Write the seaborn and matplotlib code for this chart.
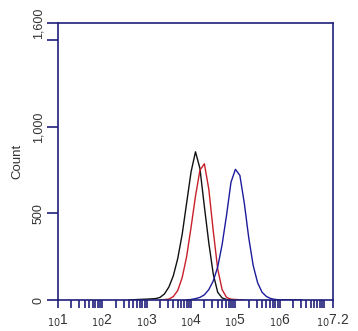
import numpy as np
import pandas as pd
import matplotlib
matplotlib.use("Agg")
import matplotlib.pyplot as plt
import seaborn as sns
from matplotlib.ticker import FixedLocator, NullFormatter

# ---- data (log10 fluorescence, counts) ----
black_log = [2.6, 2.8, 3.0, 3.2, 3.3, 3.4, 3.5, 3.6, 3.7, 3.8, 3.9, 4.0, 4.1, 4.2, 4.3, 4.4, 4.5, 4.6, 4.7, 4.8, 5.0]
black_cnt = [0, 3, 5, 8, 15, 35, 75, 140, 240, 380, 560, 740, 856, 760, 540, 330, 150, 45, 12, 3, 0]

red_log = [3.3, 3.5, 3.6, 3.7, 3.8, 3.9, 4.0, 4.1, 4.2, 4.3, 4.4, 4.5, 4.6, 4.7, 4.8, 4.9, 5.0, 5.2]
red_cnt = [0, 5, 20, 55, 130, 250, 420, 600, 750, 787, 640, 400, 180, 60, 15, 5, 3, 0]

blue_log = [3.9, 4.0, 4.1, 4.2, 4.3, 4.4, 4.5, 4.6, 4.7, 4.8, 4.9, 5.0, 5.1, 5.2, 5.3, 5.4, 5.5, 5.6, 5.7, 5.8, 5.9, 6.0, 6.5]
blue_cnt = [0, 3, 8, 15, 30, 60, 110, 190, 320, 490, 680, 755, 720, 560, 360, 200, 100, 45, 20, 8, 3, 1, 0]

series_names = ["control", "red", "blue"]
colors = ["#111111", "#c8202a", "#1c1c9c"]

y_ticks = [0, 500, 1000, 1500, 1600]
y_labels = ["0", "500", "1,000", "", "1,600"]
x_major_exp = [1, 2, 3, 4, 5, 6, 7.2]

frames = []
for name, xs, ys in zip(series_names, [black_log, red_log, blue_log], [black_cnt, red_cnt, blue_cnt]):
    frames.append(pd.DataFrame({"fl": 10 ** np.array(xs, dtype=float), "count": ys, "series": name}))
df = pd.concat(frames, ignore_index=True)

sns.set_style("white")
plt.rcParams["font.family"] = ["Liberation Sans", "DejaVu Sans"]

fig = plt.figure(figsize=(3.58, 3.31), dpi=100)
ax = fig.add_axes([58 / 358, 31 / 331, 275 / 358, 277 / 331])

sns.lineplot(data=df, x="fl", y="count", hue="series", palette=colors,
             hue_order=series_names, linewidth=1.0, legend=False, ax=ax,
             estimator=None, sort=False)

ax.set_xscale("log")
ax.set_xlim(10 ** 1, 10 ** 7.2)
ax.set_ylim(0, 1600)

spine_col = "#1f1f7a"
for s in ax.spines.values():
    s.set_color(spine_col)
    s.set_linewidth(1.2)

ax.set_yticks(y_ticks)
ax.set_yticklabels(y_labels, rotation=90, va="center", fontsize=9, color="#333333")
ax.tick_params(axis="y", left=True, direction="out", length=8, width=1.2, color=spine_col, pad=2)

ax.xaxis.set_major_locator(FixedLocator([10 ** e for e in x_major_exp]))
xlabels = [r"$_{10}$" + (str(e) if e != int(e) else str(int(e))) for e in x_major_exp]
ax.set_xticklabels(xlabels, fontsize=10, color="#333333")
minor = []
for d in range(1, 7):
    for m in range(2, 10):
        minor.append(m * 10 ** d)
minor.append(10 ** 7)
ax.xaxis.set_minor_locator(FixedLocator(minor))
ax.xaxis.set_minor_formatter(NullFormatter())
ax.tick_params(axis="x", which="both", bottom=True, direction="out", width=1.2, color=spine_col)
ax.tick_params(axis="x", which="major", length=6, pad=3)
ax.tick_params(axis="x", which="minor", length=6)

ax.set_xlabel("")
ax.set_ylabel("Count", fontsize=9.5, color="#333333", labelpad=6)

fig.savefig("out.png", dpi=100)
